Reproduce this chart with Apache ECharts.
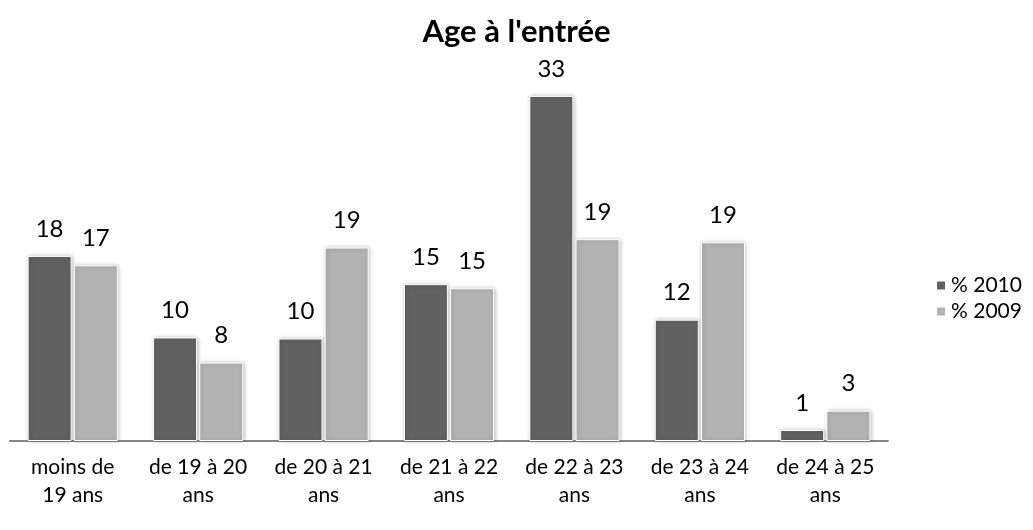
<!DOCTYPE html>
<html><head><meta charset="utf-8">
<script src="https://cdn.jsdelivr.net/npm/echarts@6/dist/echarts.min.js"></script>
<style>html,body{margin:0;padding:0;background:#fff}#c{width:1033px;height:530px}</style>
</head><body><div id="c"></div>
<script>
const categories = ["moins de\n19 ans","de 19 à 20\nans","de 20 à 21\nans","de 21 à 22\nans","de 22 à 23\nans","de 23 à 24\nans","de 24 à 25\nans"];
const pct2010 = [17.7, 9.9, 9.8, 15.0, 33.0, 11.6, 1.05];
const pct2009 = [16.8, 7.5, 18.5, 14.6, 19.3, 19.0, 2.9];
const seriesNames = ["% 2010","% 2009"];
const FONT = "Lato, 'Open Sans', sans-serif";
const chart = echarts.init(document.getElementById('c'));
const lbl = {show:true, position:'top', distance:15, color:'#000', fontSize:24, fontFamily:FONT,
  formatter: p => Math.round(p.value)};
const common = {type:'bar', barWidth:44, barGap:'5%', label:lbl};
chart.setOption({
  animation:false,
  title:{text:"Age à l'entrée", left:'center', top:11, textStyle:{fontSize:31, fontWeight:'bold', color:'#000', fontFamily:FONT}},
  legend:{orient:'vertical', left:930, top:270, itemWidth:10, itemHeight:10, itemGap:5, icon:'rect',
    textStyle:{fontSize:21, color:'#000', fontFamily:FONT}, data:seriesNames},
  grid:{left:10, right:145, top:75, bottom:89},
  xAxis:{type:'category', data:categories, axisTick:{show:false},
    axisLine:{lineStyle:{color:'#868686', width:2}},
    axisLabel:{color:'#000', fontSize:21, fontFamily:FONT, margin:12, lineHeight:28, interval:0}},
  yAxis:{type:'value', min:0, max:35, show:false, splitLine:{show:false}},
  series:[
    Object.assign({name:seriesNames[0], data:pct2010, itemStyle:{color:'#616161', borderColor:'#fff', borderWidth:1, shadowBlur:4, shadowColor:'rgba(0,0,0,0.25)', shadowOffsetX:1}}, common),
    Object.assign({name:seriesNames[1], data:pct2009, itemStyle:{color:'#b3b3b3', borderColor:'#fff', borderWidth:1, shadowBlur:4, shadowColor:'rgba(0,0,0,0.25)', shadowOffsetX:1}}, common)
  ]
});
</script></body></html>
